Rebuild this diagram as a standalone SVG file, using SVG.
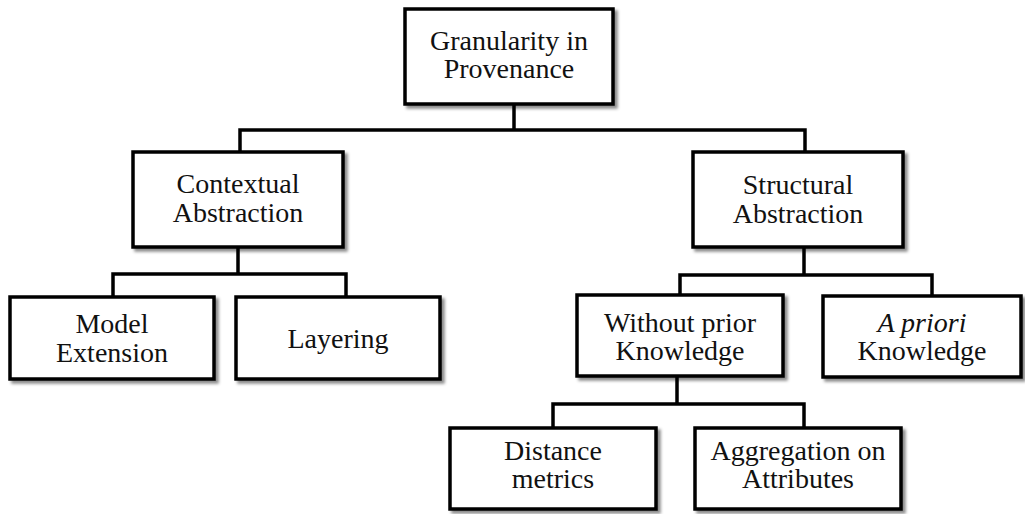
<svg xmlns="http://www.w3.org/2000/svg" width="1025" height="514" viewBox="0 0 1025 514">
  <defs>
    <filter id="shadow" x="-10%" y="-10%" width="125%" height="130%">
      <feDropShadow dx="3" dy="3" stdDeviation="1.5" flood-color="#000" flood-opacity="0.45"/>
    </filter>
  </defs>
  <style>
    .box { fill: #fff; stroke: #000; stroke-width: 3.5; filter: url(#shadow); }
    .lbl { font-family: "Liberation Serif", "Times New Roman", serif; font-size: 28px; fill: #111; text-anchor: middle; }
    .it { font-style: italic; }
    .wire { fill: none; stroke: #000; stroke-width: 3.5; stroke-linejoin: miter; stroke-linecap: square; }
  </style>
  <rect width="1025" height="514" fill="#fff"/>

  <!-- tree connectors -->
  <g id="connectors">
    <path class="wire" d="M514,104 V130 M240,152 V130 H805 V152"/>
    <path class="wire" d="M238,247 V274 M113,297 V274 H346 V297"/>
    <path class="wire" d="M804,247 V275 M680,295 V275 H932 V295"/>
    <path class="wire" d="M677,376 V404 M553,428 V404 H804 V428"/>
  </g>

  <g id="root">
    <rect class="box" x="405" y="9" width="208" height="95"/>
    <text class="lbl" x="509" y="50">Granularity in</text>
    <text class="lbl" x="509" y="78">Provenance</text>
  </g>

  <g id="contextual">
    <rect class="box" x="133" y="152" width="210" height="95"/>
    <text class="lbl" x="238" y="193">Contextual</text>
    <text class="lbl" x="238" y="222">Abstraction</text>
  </g>

  <g id="structural">
    <rect class="box" x="693" y="152" width="210" height="95"/>
    <text class="lbl" x="798" y="194">Structural</text>
    <text class="lbl" x="798" y="223">Abstraction</text>
  </g>

  <g id="model-extension">
    <rect class="box" x="10" y="297" width="204" height="82"/>
    <text class="lbl" x="112" y="333">Model</text>
    <text class="lbl" x="112" y="362">Extension</text>
  </g>

  <g id="layering">
    <rect class="box" x="236" y="297" width="204" height="82"/>
    <text class="lbl" x="338" y="348">Layering</text>
  </g>

  <g id="without-prior">
    <rect class="box" x="577" y="295" width="206" height="81"/>
    <text class="lbl" x="680" y="332">Without prior</text>
    <text class="lbl" x="680" y="360">Knowledge</text>
  </g>

  <g id="a-priori">
    <rect class="box" x="823" y="296" width="198" height="81"/>
    <text class="lbl it" x="922" y="332">A priori</text>
    <text class="lbl" x="922" y="360">Knowledge</text>
  </g>

  <g id="distance">
    <rect class="box" x="450" y="428" width="206" height="81"/>
    <text class="lbl" x="553" y="460">Distance</text>
    <text class="lbl" x="553" y="488">metrics</text>
  </g>

  <g id="aggregation">
    <rect class="box" x="695" y="428" width="206" height="81"/>
    <text class="lbl" x="798" y="460">Aggregation on</text>
    <text class="lbl" x="798" y="488">Attributes</text>
  </g>
</svg>
